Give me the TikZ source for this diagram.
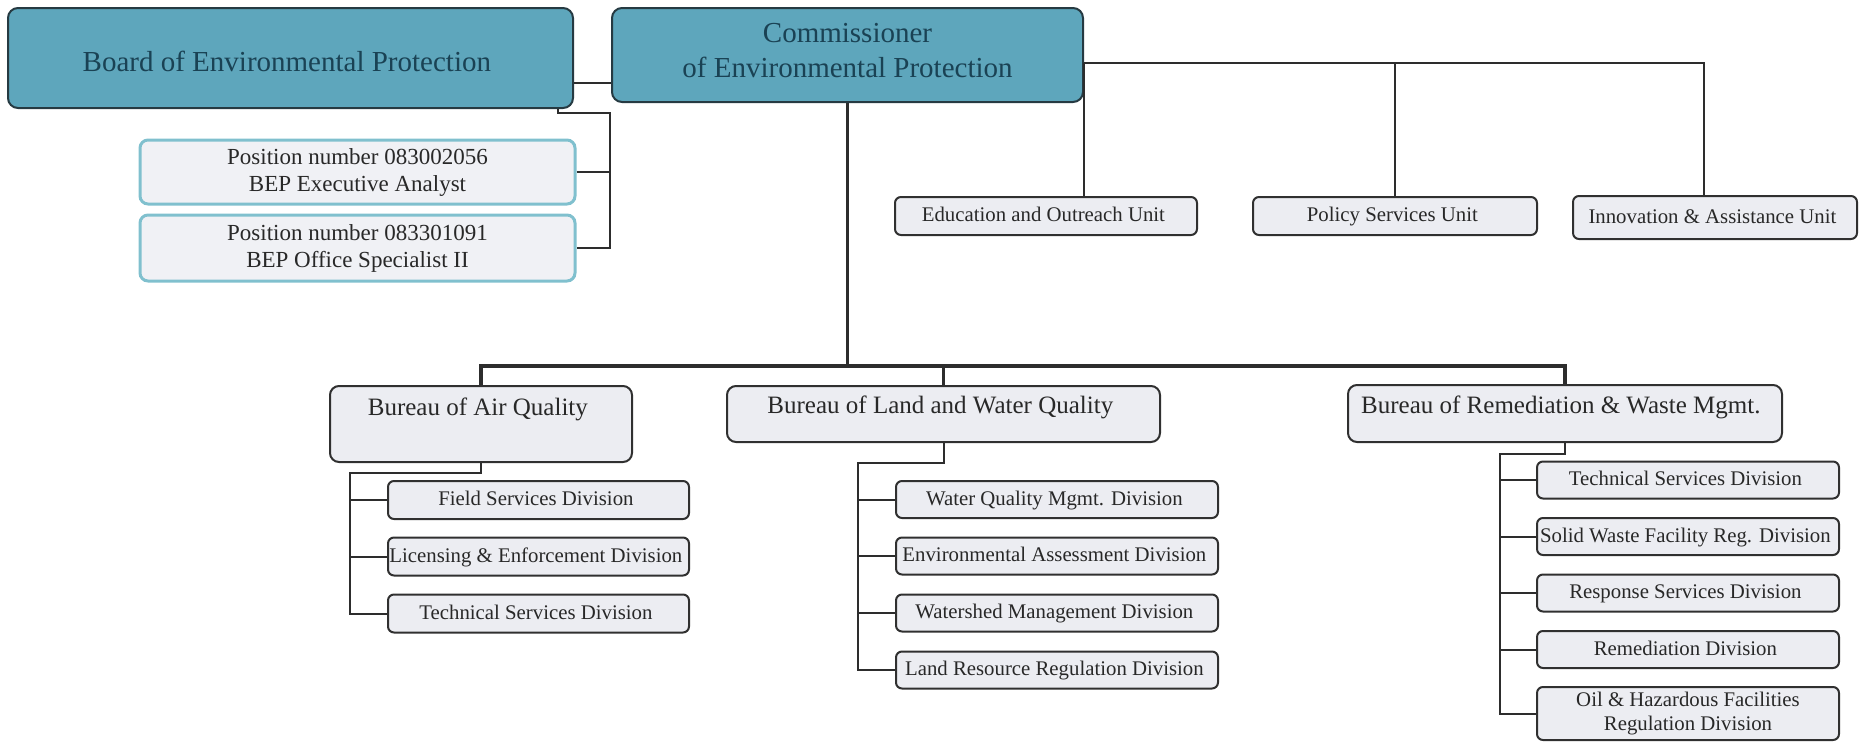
\documentclass[tikz,border=0pt]{standalone}
\usepackage{fontspec}
\setmainfont{Liberation Serif}
\definecolor{topfill}{RGB}{94,166,188}
\definecolor{topline}{RGB}{38,58,66}
\definecolor{toptext}{RGB}{26,66,84}
\definecolor{posfill}{RGB}{240,241,245}
\definecolor{posline}{RGB}{128,192,206}
\definecolor{boxfill}{RGB}{236,237,242}
\definecolor{boxline}{RGB}{48,48,48}
\definecolor{boxtext}{RGB}{40,40,40}
\definecolor{linecol}{RGB}{45,45,45}

\begin{document}
\begin{tikzpicture}[x = 1pt, y = -1pt,
    every node/.style = { inner sep = 0pt, align = center },
    topbox/.style = { draw = topline, fill = topfill, text = toptext, line width = 2pt, rounded corners = 10pt, font = \fontsize{29}{35}\selectfont },
    posbox/.style = { draw = posline, fill = posfill, text = boxtext, line width = 3pt, rounded corners = 8pt, minimum width = 435pt, font = \fontsize{23}{27}\selectfont },
    unitbox/.style = { draw = boxline, fill = boxfill, text = boxtext, line width = 2pt, rounded corners = 6pt, minimum height = 38pt, font = \fontsize{20.8}{23.5}\selectfont },
    divbox/.style = { unitbox, text height = 14pt, text depth = 3pt },
    bureau/.style = { unitbox, rounded corners = 9pt, text height = 17pt, font = \fontsize{25}{30}\selectfont },
    link/.style = { draw = linecol, line width = 2pt },
    trunk/.style = { draw = linecol, line width = 3.5pt }]
  \useasboundingbox (0,0) rectangle (1863,742);

  \node[topbox, minimum width = 565pt, minimum height = 100pt, text height = 26pt, text depth = 0pt] (board) at (290.5,58) { Board of Environmental Protection };
  \node[topbox, minimum width = 471pt, minimum height = 94pt, text depth = 10pt] (comm) at (847.5,55) { Commissioner \\ of Environmental Protection };

  \node[posbox, minimum height = 64pt] (pos1) at (357.5,172) { Position number 083002056 \\ BEP Executive Analyst };
  \node[posbox, minimum height = 66pt] (pos2) at (357.5,248) { Position number 083301091 \\ BEP Office Specialist II };

  \node[divbox, minimum width = 302pt] (edu) at (1046,216) { Education and Outreach Unit };
  \node[divbox, minimum width = 284pt] (pol) at (1395,216) { Policy Services Unit };
  \node[divbox, minimum width = 284pt, minimum height = 43pt] (inn) at (1715,217.5) { Innovation \& Assistance Unit };

  \node[bureau, minimum width = 302pt, minimum height = 76pt, text depth = 35pt] (air) at (481,424) { Bureau of Air Quality };
  \node[bureau, minimum width = 433pt, minimum height = 56pt, text depth = 19pt] (land) at (943.5,414) { Bureau of Land and Water Quality };
  \node[bureau, minimum width = 434pt, minimum height = 57pt, text depth = 18pt] (rem) at (1565,413.5) { Bureau of Remediation \& Waste Mgmt. };

  \node[divbox, minimum width = 301pt] (a1) at (538.5,500) { Field Services Division };
  \node[divbox, minimum width = 301pt] (a2) at (538.5,556.5) { Licensing \& Enforcement Division };
  \node[divbox, minimum width = 301pt] (a3) at (538.5,613.5) { Technical Services Division };

  \node[divbox, minimum width = 322pt, minimum height = 37pt] (l1) at (1057,499.5) { Water Quality Mgmt. Division };
  \node[divbox, minimum width = 322pt, minimum height = 37pt] (l2) at (1057,556) { Environmental Assessment Division };
  \node[divbox, minimum width = 322pt, minimum height = 37pt] (l3) at (1057,613) { Watershed Management Division };
  \node[divbox, minimum width = 322pt, minimum height = 37pt] (l4) at (1057,670) { Land Resource Regulation Division };

  \node[divbox, minimum width = 302pt, minimum height = 37pt] (r1) at (1688,480) { Technical Services Division };
  \node[divbox, minimum width = 302pt, minimum height = 37pt] (r2) at (1688,536.5) { Solid Waste Facility Reg. Division };
  \node[divbox, minimum width = 302pt, minimum height = 37pt] (r3) at (1688,593) { Response Services Division };
  \node[divbox, minimum width = 302pt, minimum height = 37pt] (r4) at (1688,649.5) { Remediation Division };
  \node[unitbox, minimum width = 302pt, minimum height = 53pt] (r5) at (1688,713.5) { Oil \& Hazardous Facilities \\ Regulation Division };

  \draw[link] ([yshift=-25pt]board.east) -- ([yshift=-25pt]board.east -| comm.west);
  \coordinate (bspine) at (610,113);
  \draw[link] ([xshift=-16pt]board.south east) |- (bspine) |- (pos2.east);
  \draw[link] (pos1.east) -| (bspine);

  \coordinate (cright) at ([yshift=-8pt]comm.east);
  \draw[link] (cright) -| ([xshift=-11pt]inn.north);
  \draw[link] (cright) -- (cright |- edu.north);
  \draw[link] (pol.north) -- (pol.north |- cright);

  \coordinate (bar) at ([yshift=19pt]air.north);
  \draw[trunk] (air.north) |- (bar -| rem.north) -- (rem.north);
  \draw[trunk] (comm.south) -- (comm.south |- bar);
  \draw[trunk] (land.north) -- (land.north |- bar);

  \draw[link] (air.south) -- ++(0,10) -| ([xshift=-37pt]a3.west) -- (a3.west);
  \draw[link] (a1.west) -- ++(-37,0);
  \draw[link] (a2.west) -- ++(-37,0);

  \draw[link] (land.south) -- ++(0,20) -| ([xshift=-37pt]l4.west) -- (l4.west);
  \draw[link] (l1.west) -- ++(-37,0);
  \draw[link] (l2.west) -- ++(-37,0);
  \draw[link] (l3.west) -- ++(-37,0);

  \draw[link] (rem.south) -- ++(0,11) -| ([xshift=-36pt]r5.west) -- (r5.west);
  \draw[link] (r1.west) -- ++(-36,0);
  \draw[link] (r2.west) -- ++(-36,0);
  \draw[link] (r3.west) -- ++(-36,0);
  \draw[link] (r4.west) -- ++(-36,0);
\end{tikzpicture}
\end{document}
